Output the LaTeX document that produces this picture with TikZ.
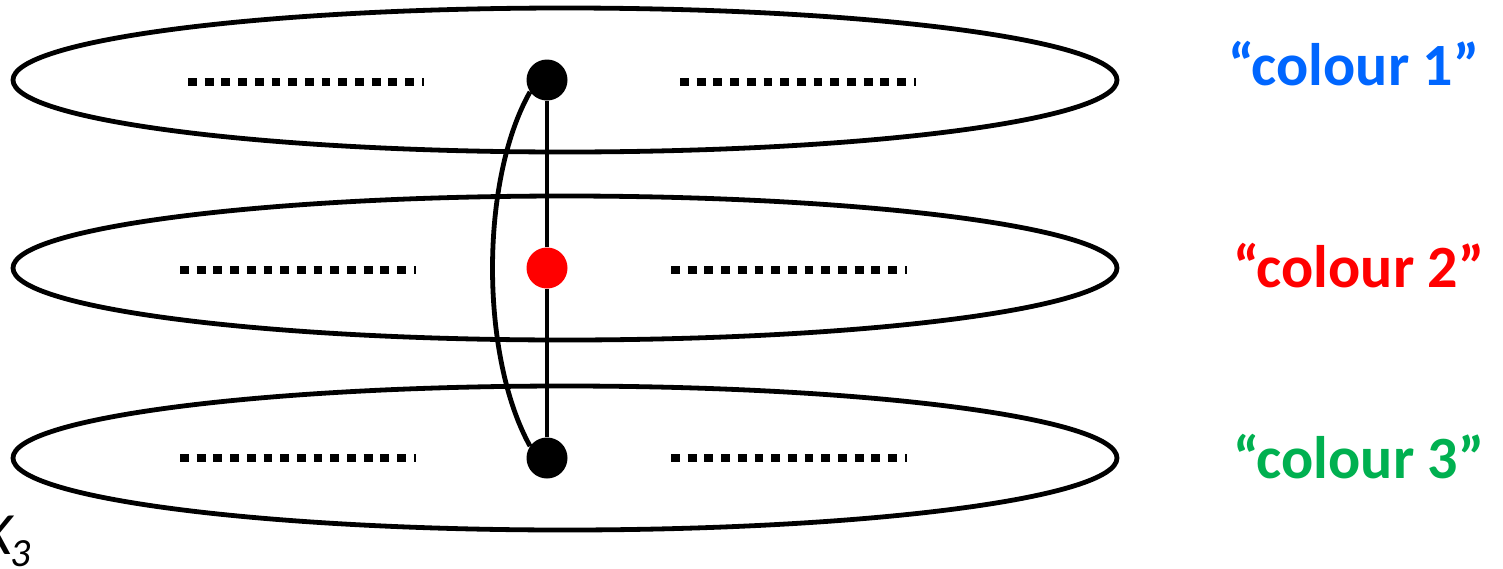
\documentclass[tikz,border=0pt]{standalone}
\usepackage{fontspec}
\setmainfont{Carlito}
\begin{document}
\begin{tikzpicture}[x=1pt,y=-1pt,
  ring/.style={line width=4.8pt},
  dots/.style={line width=8.8pt, dash pattern=on 8.8pt off 7.9pt},
  vtx/.style={circle, inner sep=0pt, minimum size=41pt},
  edge/.style={line width=4.8pt},
  lab/.style={font=\fontsize{60}{66}\selectfont\bfseries, anchor=west, inner sep=0pt}]
\useasboundingbox (0,0) rectangle (1503,568);
% colour classes
\draw[ring] (565,80) ellipse [x radius=552, y radius=72];
\draw[ring] (565,268) ellipse [x radius=552, y radius=72];
\draw[ring] (565,458) ellipse [x radius=552, y radius=72];
% dotted rows
\draw[dots] (188,82) -- (424,82);
\draw[dots] (680,82) -- (916,82);
\draw[dots] (180,270) -- (416,270);
\draw[dots] (671,270) -- (907,270);
\draw[dots] (180,458) -- (416,458);
\draw[dots] (671,458) -- (907,458);
% triangle
\node[vtx, fill=black] (v1) at (547,80) {};
\node[vtx, fill=red] (v2) at (547,268) {};
\node[vtx, fill=black] (v3) at (547,458) {};
\draw[edge] (v1) -- (v2);
\draw[edge] (v2) -- (v3);
\draw[edge] (v1.215) .. controls (480,180) and (480,356) .. (v3.145);
% labels
\node[lab, text={rgb,255:red,0;green,102;blue,255}] (c1) at (1228,64) {“colour 1”};
\node[lab, text=red] (c2) at (1233,266) {“colour 2”};
\node[lab, text={rgb,255:red,0;green,176;blue,80}] (c3) at (1233,457) {“colour 3”};
\node[anchor=base east, inner sep=0pt, font=\fontsize{60}{66}\selectfont\itshape] (k) at (13,554) {K};
\node[anchor=base west, inner sep=0pt, font=\fontsize{40}{46}\selectfont\itshape] (k3) at (10,566) {3};
\end{tikzpicture}
\end{document}
